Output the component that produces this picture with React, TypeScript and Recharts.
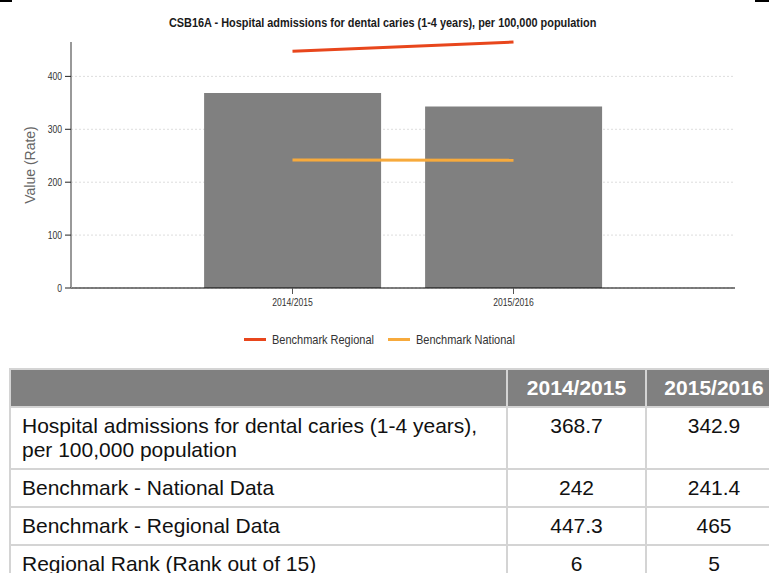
import React from 'react';
import {
  ComposedChart,
  Bar,
  Line,
  XAxis,
  YAxis,
  CartesianGrid,
} from 'recharts';

const chartTitle =
  'CSB16A - Hospital admissions for dental caries (1-4 years), per 100,000 population';
const categories = ['2014/2015', '2015/2016'];
const rateValues = [368.7, 342.9];
const nationalValues = [242, 241.4];
const regionalValues = [447.3, 465];
const rankValues = [6, 5];
const yTicks = [0, 100, 200, 300, 400];
const legendLabels = ['Benchmark Regional', 'Benchmark National'];

const rowLabels = [
  'Hospital admissions for dental caries (1-4 years), per 100,000 population',
  'Benchmark - National Data',
  'Benchmark - Regional Data',
  'Regional Rank (Rank out of 15)',
];

const data = categories.map((c, i) => ({
  name: c,
  value: rateValues[i],
  regional: regionalValues[i],
  national: nationalValues[i],
}));

const SANS = "'Liberation Sans', Arial, sans-serif";
const NARROW_SCALE = 0.82;

const REGIONAL_COLOR = '#e8461c';
const NATIONAL_COLOR = '#f7aa3c';
const BAR_COLOR = '#808080';

const XTick = (props: any) => {
  const { x, y, payload } = props;
  return (
    <text
      transform={`translate(${x},${y}) scale(${NARROW_SCALE},1)`}
      textAnchor="middle"
      dy="0.71em"
      fontFamily={SANS}
      fontSize={10.5}
      fill="#333"
    >
      {payload.value}
    </text>
  );
};

const YTick = (props: any) => {
  const { x, y, payload } = props;
  return (
    <text
      transform={`translate(${x},${y}) scale(${NARROW_SCALE},1)`}
      textAnchor="end"
      dy="0.355em"
      fontFamily={SANS}
      fontSize={10.5}
      fill="#333"
    >
      {payload.value}
    </text>
  );
};

const tableRows = [
  { label: rowLabels[0], values: rateValues },
  { label: rowLabels[1], values: nationalValues },
  { label: rowLabels[2], values: regionalValues },
  { label: rowLabels[3], values: rankValues },
];

const legendItems = [
  { label: legendLabels[0], color: REGIONAL_COLOR, left: 244 },
  { label: legendLabels[1], color: NATIONAL_COLOR, left: 388 },
];

export default function App() {
  return (
    <div
      style={{
        position: 'fixed',
        left: 0,
        top: 0,
        width: 769,
        height: 573,
        overflow: 'hidden',
        background: '#fff',
      }}
    >
      <div style={{ position: 'absolute', left: 0, top: 0, width: 12, height: 2, background: '#000' }} />
      <div style={{ position: 'absolute', left: 755, top: 0, width: 14, height: 2, background: '#000' }} />

      <div
        style={{
          position: 'absolute',
          top: 14,
          left: 0,
          width: 766,
          textAlign: 'center',
          lineHeight: '16px',
        }}
      >
        <span
          style={{
            display: 'inline-block',
            transform: `scaleX(${NARROW_SCALE})`,
            transformOrigin: 'center',
            fontFamily: SANS,
            fontWeight: 'bold',
            fontSize: 13.3,
            color: '#1a1a1a',
            whiteSpace: 'nowrap',
          }}
        >
          {chartTitle}
        </span>
      </div>

      <div
        style={{
          position: 'absolute',
          left: 30,
          top: 165,
          transform: 'translate(-50%, -50%) rotate(-90deg)',
          fontFamily: SANS,
          fontSize: 14,
          color: '#666',
          whiteSpace: 'nowrap',
        }}
      >
        Value (Rate)
      </div>

      <div style={{ position: 'absolute', left: 0, top: 0 }}>
        <ComposedChart
          width={769}
          height={360}
          data={data}
          margin={{ top: 42, right: 34, left: 11, bottom: 42 }}
          barCategoryGap="10%"
        >
          <CartesianGrid
            vertical={false}
            stroke="#ddd"
            strokeDasharray="2 2"
            syncWithTicks
          />
          <XAxis
            dataKey="name"
            padding={{ left: 111, right: 111 }}
            height={30}
            tickSize={6}
            tickMargin={5}
            axisLine={{ stroke: '#000', strokeWidth: 1 }}
            tickLine={{ stroke: '#555' }}
            tick={<XTick />}
          />
          <YAxis
            width={60}
            domain={[0, 'dataMax']}
            ticks={yTicks}
            tickSize={6}
            tickMargin={3}
            axisLine={{ stroke: '#999', strokeWidth: 2 }}
            tickLine={{ stroke: '#222' }}
            tick={<YTick />}
          />
          <Bar dataKey="value" fill={BAR_COLOR} legendType="none" isAnimationActive={false} />
          <Line
            type="linear"
            dataKey="regional"
            name={legendLabels[0]}
            stroke={REGIONAL_COLOR}
            strokeWidth={3}
            dot={false}
            activeDot={false}
            isAnimationActive={false}
          />
          <Line
            type="linear"
            dataKey="national"
            name={legendLabels[1]}
            stroke={NATIONAL_COLOR}
            strokeWidth={3}
            dot={false}
            activeDot={false}
            isAnimationActive={false}
          />
        </ComposedChart>
      </div>

      {legendItems.map((it) => (
        <div
          key={it.label}
          style={{
            position: 'absolute',
            left: it.left,
            top: 330,
            height: 18,
            display: 'flex',
            alignItems: 'center',
          }}
        >
          <div style={{ width: 22, height: 3, background: it.color, marginRight: 6 }} />
          <span
            style={{
              display: 'inline-block',
              transform: `scaleX(${NARROW_SCALE})`,
              transformOrigin: 'left center',
              fontFamily: SANS,
              fontSize: 13.4,
              color: '#333',
              whiteSpace: 'nowrap',
            }}
          >
            {it.label}
          </span>
        </div>
      ))}

      <table
        style={{
          position: 'absolute',
          left: 9,
          top: 368,
          borderCollapse: 'separate',
          borderSpacing: 2,
          background: '#d4d4d4',
          fontFamily: SANS,
          fontSize: 21,
          lineHeight: '24px',
          color: '#111',
          tableLayout: 'fixed',
          width: 774,
        }}
      >
        <colgroup>
          <col style={{ width: 495 }} />
          <col style={{ width: 137 }} />
          <col style={{ width: 134 }} />
        </colgroup>
        <thead>
          <tr>
            <th style={{ background: '#808080', padding: '6px 11px' }} />
            {categories.map((c) => (
              <th
                key={c}
                style={{
                  background: '#808080',
                  color: '#fff',
                  fontWeight: 'bold',
                  padding: '6px 0',
                  textAlign: 'center',
                  whiteSpace: 'nowrap',
                }}
              >
                {c}
              </th>
            ))}
          </tr>
        </thead>
        <tbody>
          {tableRows.map((r) => (
            <tr key={r.label}>
              <td style={{ background: '#fff', padding: '6px 11px', verticalAlign: 'top' }}>
                {r.label}
              </td>
              {r.values.map((v, i) => (
                <td
                  key={i}
                  style={{
                    background: '#fff',
                    padding: '6px 0',
                    textAlign: 'center',
                    verticalAlign: 'top',
                  }}
                >
                  {v}
                </td>
              ))}
            </tr>
          ))}
        </tbody>
      </table>
    </div>
  );
}
